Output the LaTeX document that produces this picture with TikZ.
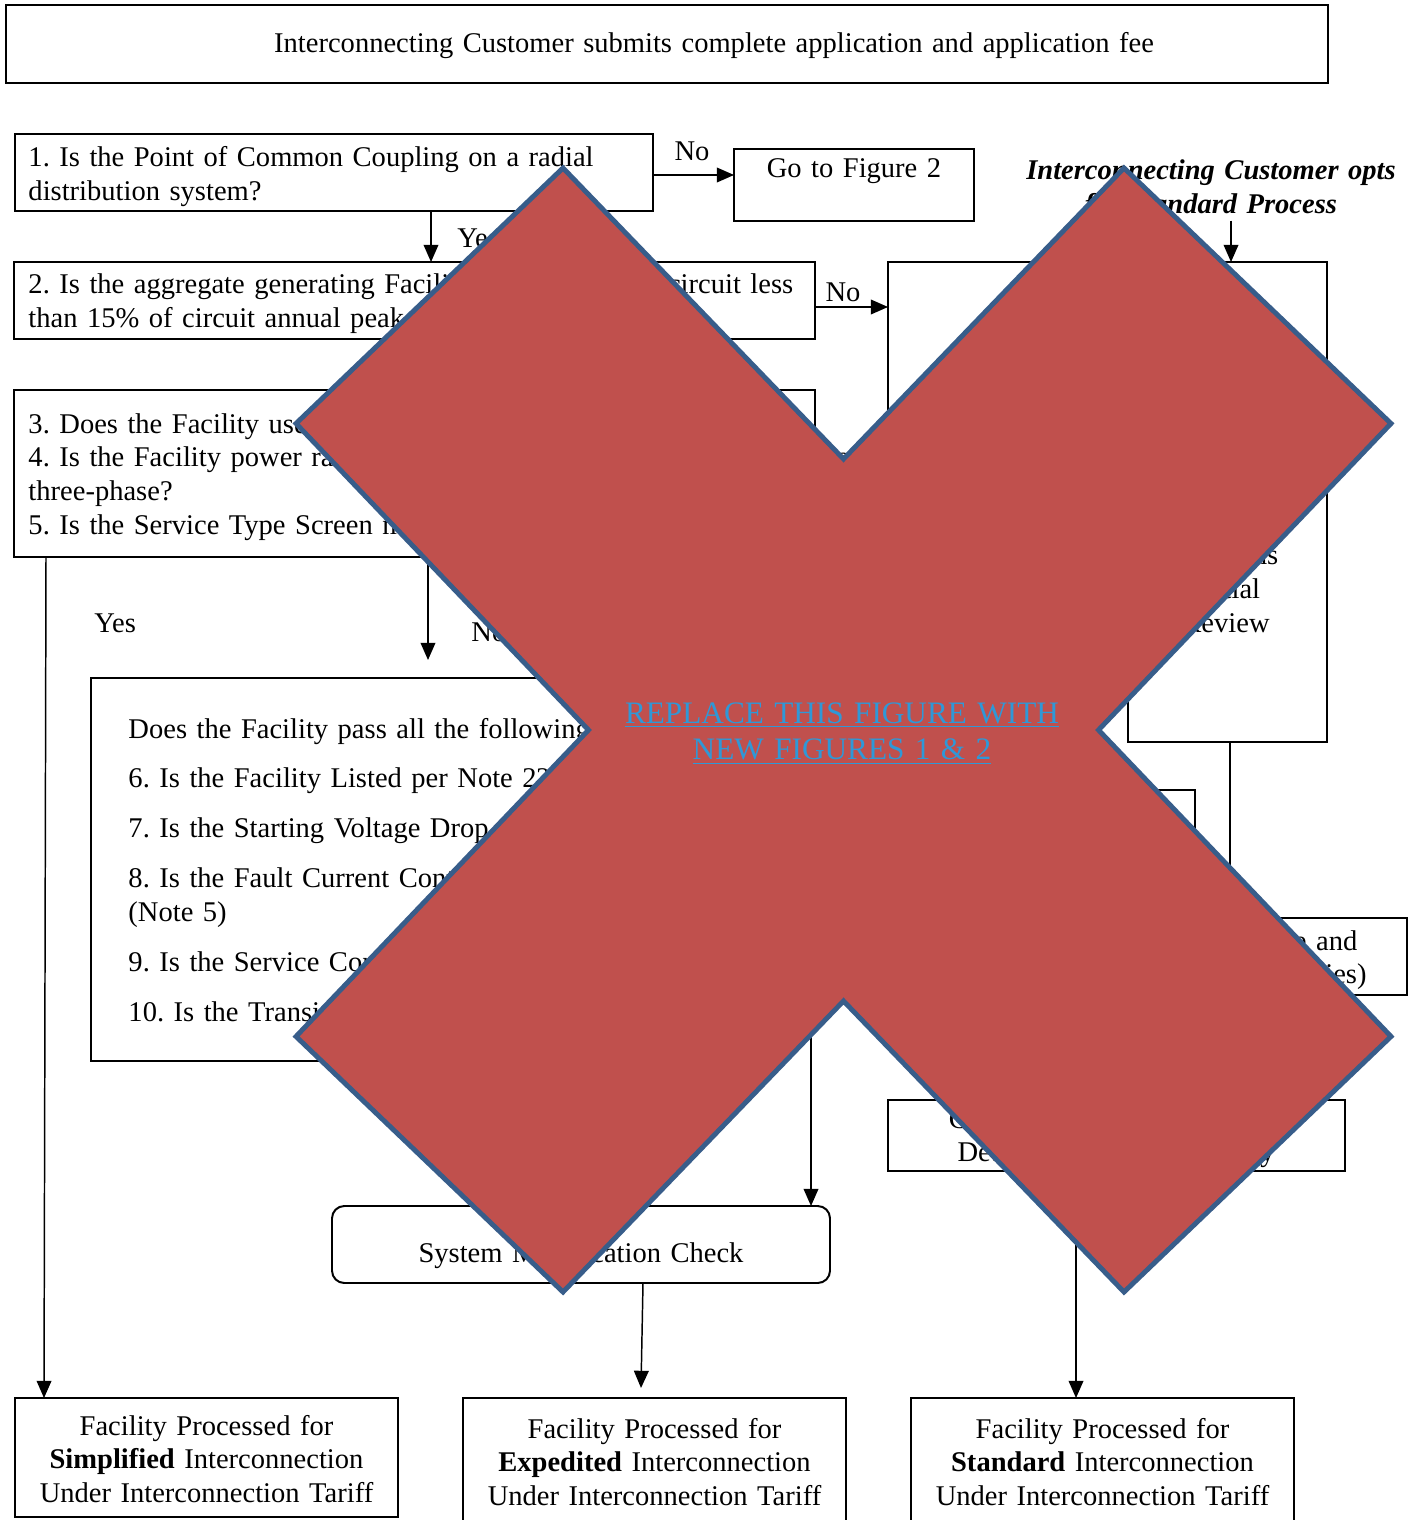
\documentclass[tikz,border=0pt]{standalone}
\usepackage{fontspec}
\setmainfont{Liberation Serif}
\usetikzlibrary{arrows.meta,fit,calc}
\definecolor{xred}{RGB}{192,80,77}
\definecolor{xedge}{RGB}{56,93,138}
\definecolor{lnk}{RGB}{47,152,215}
\begin{document}
\frenchspacing
\begin{tikzpicture}[x=0.4065pt,y=-0.4065pt,
  box/.style={draw, line width=0.8pt, inner sep=0pt, outer sep=0pt},
  lbl/.style={inner sep=0pt, font=\fontsize{11.6}{13.8}\selectfont},
  con/.style={line width=0.6pt, -{Triangle[length=7pt,width=6pt]}},
  ltxt/.style={lbl, anchor=base west, text width=#1, align=left},
  ctxt/.style={lbl, anchor=base, text width=#1, align=center}]
\fill[white] (0,0) rectangle (1419,1520);
\useasboundingbox (0,0) rectangle (1419,1520);

% top
\node[box, fit={(6,5)(1328,83)}] (top) {};
\node[ctxt=400pt] (ttop) at (714,53) {Interconnecting Customer submits complete application and application fee};

% box 1
\node[box, fit={(15,134)(653,211)}] (b1) {};
\node[ltxt=400pt] (t1) at (28,167) {1. Is the Point of Common Coupling on a radial\\distribution system?};

\node[box, fit={(734,149)(974,221)}] (goto) {};
\node[ctxt=90pt] (tgoto) at (854,178) {Go to Figure 2};

\node[ctxt=170pt, font=\fontsize{11.6}{13.8}\selectfont\bfseries\itshape] (topt) at (1211,180) {Interconnecting Customer opts\\for Standard Process};

% box 2
\node[box, fit={(14,262)(815,339)}] (b2) {};
\node[ltxt=400pt] (t2) at (28,294) {2. Is the aggregate generating Facility capacity on the circuit less\\than 15\% of circuit annual peak load?};

% box 3
\node[box, fit={(14,390)(815,557)}] (b3) {};
\node[ltxt=400pt] (t3) at (28,433) {3. Does the Facility use a certified inverter?\\4. Is the Facility power rating 10 kW or less single-phase or 25 kW or less\\three-phase?\\5. Is the Service Type Screen met?};

% box 4
\node[box, fit={(91,678)(785,1061)}] (b4) {};
\node[ltxt=400pt] (t4) at (128,738) {Does the Facility pass all the following screens?\\[6.5pt]6. Is the Facility Listed per Note 2?\\[6.5pt]7. Is the Starting Voltage Drop screen met?\\[6.5pt]8. Is the Fault Current Contribution screen met?\\(Note 5)\\[6.5pt]9. Is the Service Configuration screen met?\\[6.5pt]10. Is the Transient Stability screen met?};

% right column
\node[box, fit={(888,262)(1327,460)}] (A) {};
\node[ctxt=200pt] (tA) at (1107,365) {Supplemental Review};
\node[box, fit={(1128,470)(1327,742)}] (B) {};
\node[ctxt=80pt] (tB) at (1226,531) {Utility\\Performs\\Initial\\Review};
\node[box, fit={(620,790)(1195,880)}] (C) {};
\node[ctxt=220pt] (tC) at (907,845) {Are Supplemental Review screens met?};
\node[box, fit={(919,918)(1407,995)}] (D) {};
\node[ctxt=190pt] (tD) at (1166,950) {Impact Study, Cost Estimate and\\(Facility Study and Other Studies)};
\node[box, fit={(888,1100)(1345,1171)}] (E) {};
\node[ctxt=180pt] (tE) at (1116,1128) {Construction Agreement and\\Detailed Design of Facility};

% system check
\node[box, rounded corners=5pt, fit={(332,1206)(830,1283)}] (sys) {};
\node[ctxt=200pt] (tsys) at (581,1262) {System Modification Check};

% bottom boxes
\node[box, fit={(15,1398)(398,1517)}] (sim) {};
\node[ctxt=170pt] (tsim) at (206.5,1435) {Facility Processed for\\\textbf{Simplified} Interconnection\\Under Interconnection Tariff};
\node[box, fit={(463,1398)(846,1535)}] (exp) {};
\node[ctxt=170pt] (texp) at (654.5,1438) {Facility Processed for\\\textbf{Expedited} Interconnection\\Under Interconnection Tariff};
\node[box, fit={(911,1398)(1294,1535)}] (std) {};
\node[ctxt=170pt] (tstd) at (1102.5,1438) {Facility Processed for\\\textbf{Standard} Interconnection\\Under Interconnection Tariff};

% labels
\node[lbl, anchor=base west] (lno1) at (674,161) {No};
\node[lbl, anchor=base west] (lyes1) at (457,248) {Yes};
\node[lbl, anchor=base west] (lno2) at (825,302) {No};
\node[lbl, anchor=base west] (lyes2) at (94,632) {Yes};
\node[lbl, anchor=base west] (lno3) at (471,641) {No};

% connectors
\coordinate (n3) at (428,660);
\coordinate (ex) at (641,1388);
\draw[con] (b1.east |- 0,175) -- (goto.west |- 0,175);
\draw[con] (431,0 |- b1.south) -- (431,0 |- b2.north);
\draw[con] (b2.east |- 0,307) -- (A.west |- 0,307);
\draw[con] (1231,0 |- topt.south) -- (1231,0 |- A.north);
\draw[con] ($(b3.south west)+(32,0)$) -- ($(sim.north west)+(29,0)$);
\draw[con] (428,0 |- b3.south) -- (n3);
\draw[con] (1230,0 |- B.south) -- (1230,0 |- D.north);
\draw[con] (811,0 |- C.south) -- (811,0 |- sys.north);
\draw[con] (1076,0 |- E.south) -- (1076,0 |- std.north);
\draw[con] (643,0 |- sys.south) -- (ex);

% the cross
\filldraw[fill=xred, draw=xedge, line width=2pt, line join=miter]
  (563,168) -- (843.5,459) -- (1124,168) -- (1391,423.5) -- (1098.5,730)
  -- (1391,1036.5) -- (1124,1292) -- (843.5,1001) -- (563,1292)
  -- (296,1036.5) -- (588.5,730) -- (296,423.5) -- cycle;

\node[ctxt=250pt, font=\fontsize{12.7}{15}\selectfont, text=lnk] (rep) at (842,723)
  {\underline{REPLACE THIS FIGURE WITH}\\\underline{NEW FIGURES 1 \& 2}};
\end{tikzpicture}
\end{document}
